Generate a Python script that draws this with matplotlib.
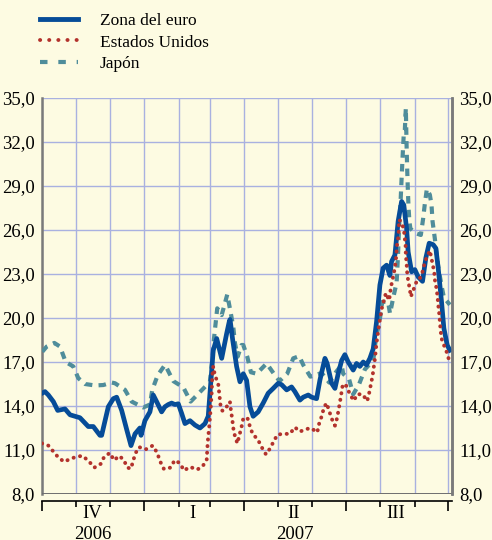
import numpy as np
import matplotlib
matplotlib.use("Agg")
import matplotlib.pyplot as plt
import matplotlib.dates as mdates
from matplotlib.lines import Line2D
from matplotlib.transforms import blended_transform_factory

plt.rcParams['font.family'] = ['Liberation Serif', 'DejaVu Serif']

start = np.datetime64('2006-10-01')

# --- data: day offsets from 1 Oct 2006 and values (%) ---
euro_days = [0, 2.7, 5.7, 10.2, 14.1, 20.7, 25.2, 29.6, 34.1, 41.6, 46.1, 52.1, 53.6, 59.6, 64.1, 67.1,
             71.6, 76.1, 80, 83.6, 88, 89, 92.5, 97, 100, 103, 107.5, 110.5, 113.5, 116.5, 119.5, 122.5,
             125.5, 128.5, 133, 137.5, 142, 146.5, 149.4, 151.6, 153.9, 157, 161.5, 166, 168.3, 169,
             171.4, 174.9, 177.9, 180.9, 183.9, 186.9, 189.8, 194.3, 198.8, 203.3, 207.8, 212.3, 215.4,
             219.9, 224.3, 227.3, 231.8, 234.8, 239.3, 242.3, 246.8, 249.8, 254.3, 256.3, 260.3, 263.3,
             266.2, 269.3, 272.2, 275.2, 279.7, 282.7, 285.7, 288.7, 291.7, 294.7, 297.7, 300.7, 303.7,
             306.6, 309.7, 312.7, 314.2, 317.2, 320.1, 323.2, 325.2, 327.7, 329.1, 332.2, 335.1, 338.1,
             342, 345, 348, 351.6, 354, 356.1, 359.1, 361.2, 364.2, 366.6]
euro_vals = [14.87, 14.98, 14.75, 14.3, 13.7, 13.8, 13.4, 13.3, 13.2, 12.6, 12.6, 12.0, 12.0, 13.95, 14.5, 14.6,
             13.7, 12.4, 11.3, 12.1, 12.5, 12.0, 13.0, 13.6, 14.75, 14.3, 13.6, 13.95, 14.1, 14.2, 14.1, 14.15,
             13.5, 12.8, 13.0, 12.7, 12.5, 12.8, 13.3, 15.5, 17.8, 18.6, 17.25, 18.95, 19.75, 19.9,
             18.5, 16.7, 15.65, 16.2, 15.75, 13.95, 13.3, 13.6, 14.2, 14.87, 15.2, 15.55, 15.45,
             15.1, 15.3, 14.98, 14.4, 14.6, 14.75, 14.6, 14.5, 15.77, 17.25, 16.9, 15.55, 15.2,
             16.2, 17.1, 17.5, 17.0, 16.45, 16.9, 16.7, 17.0, 16.8, 17.25, 17.9, 19.75, 22.25,
             23.4, 23.6, 22.9, 23.85, 24.3, 26.6, 27.95, 27.7, 26.1, 24.5, 23.15, 23.3, 22.8,
             22.5, 24.1, 25.1, 25.0, 24.75, 23.4, 21.1, 19.3, 18.15, 17.8]

us_days = [0, 5.7, 10.2, 14.6, 19.8, 25.8, 31.2, 36.6, 42.5, 47, 52.7, 56, 61.1, 64.7, 69.5, 73.7, 76.6,
           80, 82, 84.5, 87.4, 91.9, 93.4, 99.5, 103.6, 106, 109.6, 115.6, 119.2, 124, 127.6, 133,
           139.5, 144.4, 148, 148.9, 150.3, 151.6, 152.5, 153, 153.9, 155.4, 158.4, 159.1, 159.9,
           160.8, 162.4, 166.5, 168.9, 169.8, 171, 171.9, 173.4, 175.6, 177.4, 179.4, 180.9, 184.6,
           186.9, 189.3, 194.1, 197.4, 201.3, 204.9, 208, 211.6, 217, 222.8, 227.3, 231.8, 236.3,
           241.7, 247.4, 249.1, 251.6, 253.4, 255.8, 258.1, 260.6, 263.3, 265.3, 266.7, 268, 270.4,
           273.8, 276.7, 280.3, 283.3, 288.1, 292.3, 294.1, 297.1, 299.2, 300.7, 302.8, 305.2, 309.1,
           312, 313.6, 316.5, 318, 319.2, 320.5, 321, 323.2, 325.2, 326.1, 326.8, 327, 327.7, 328.2,
           329.1, 330.6, 331.5, 334.2, 337.2, 339.6, 342, 344.1, 345.6, 348.6, 351, 352.5, 353.1,
           354.6, 355.5, 356.1, 357, 357.6, 358.2, 359.1, 361.2, 363.6, 366]
us_vals = [11.45, 11.3, 10.9, 10.5, 10.2, 10.4, 10.55, 10.6, 10.2, 9.8, 10.05, 10.55, 10.8, 10.3, 10.6, 10.3, 9.8,
           9.73, 10.3, 10.84, 11.2, 11.05, 11.05, 11.3, 10.8, 10.25, 9.7, 9.8, 10.3, 10.1, 9.6, 9.85,
           9.66, 9.9, 10.3, 11.5, 12.6, 13.8, 14.9, 16.0, 16.7, 16.1, 15.5, 15.0, 14.4,
           13.8, 13.66, 14.0, 14.3, 13.7, 13.1, 12.5, 11.95, 11.45, 12.0, 12.6, 13.15, 13.2,
           12.6, 12.1, 11.7, 11.2, 10.7, 11.1, 11.55, 12.05, 12.1, 12.1, 12.55, 12.25, 12.4,
           12.5, 12.2, 12.8, 13.35, 13.9, 14.2, 13.66, 13.1, 12.66, 13.2, 13.8, 14.36, 15.5,
           15.36, 14.8, 14.36, 14.8, 14.8, 14.34, 14.9, 16.05, 17.2, 18.3, 19.45, 20.6, 21.7,
           21.2, 22.1, 23.15, 23.9, 25.05, 25.66, 26.7, 26.5, 26.05, 25.4, 24.9, 24.3, 23.7, 23.1,
           22.55, 21.95, 21.45, 22.0, 22.6, 22.7, 23.15, 23.8, 24.1, 24.6, 23.7, 23.15, 22.6,
           22.0, 21.45, 20.9, 20.3, 19.75, 19.2, 18.6, 18.16, 17.7, 17.1]

jp_days = [0.3, 4.2, 11.1, 16.2, 21.3, 28.1, 32.6, 38.6, 47.6, 55.1, 62.6, 65.6, 74.6, 80.6, 91, 97, 99.1,
           104, 110.5, 112, 118, 127, 133.6, 141.3, 150.9, 153.4, 154.5, 157.5, 161.5, 166.5, 169.5,
           171.9, 173.4, 175.8, 179.4, 180.9, 184.5, 187.8, 192.9, 201.9, 208.4, 213.5, 220.4, 225.8,
           231.2, 234.8, 241.2, 251.3, 258.1, 264.1, 269.3, 270.7, 276.1, 279.7, 284.8, 290.2, 297.7,
           300.4, 303.1, 305.8, 311, 312.8, 315.7, 318.7, 319.8, 321.2, 322.2, 323.2, 324.1, 325.2,
           326.1, 327, 327.7, 328.2, 328.8, 329.4, 330.2, 331.1, 335.1, 340.5, 342.6, 344.1, 345.9,
           348.6, 350.1, 351, 353.1, 356.1, 359.1, 361.2, 366.6]
jp_vals = [17.7, 18.05, 18.3, 18.05, 17.0, 16.7, 15.9, 15.5, 15.4, 15.43, 15.6, 15.55, 15.1, 14.3, 13.9, 14.1, 15.1,
           16.1, 16.8, 16.6, 15.7, 15.27, 14.3, 14.9, 15.65, 17.36, 18.55, 20.66, 20.2, 21.6, 20.4,
           19.4, 18.3, 17.36, 18.16, 18.16, 17.36, 16.3, 16.2, 16.9, 16.2, 15.7, 16.2, 17.25,
           17.4, 16.8, 16.0, 16.25, 15.6, 16.3, 16.8, 16.2, 15.8, 14.8, 15.45, 16.5, 17.1,
           18.8, 19.6, 21.1, 21.1, 20.3, 21.4, 22.4, 24.0, 26.6, 27.8, 29.5, 31.0, 32.6,
           32.8, 34.3, 31.7, 30.2, 28.8, 27.6, 26.6, 26.1, 25.8, 25.66, 26.8, 27.8, 28.8,
           28.4, 27.7, 26.6, 25.4, 23.5, 22.2, 21.4, 20.9]

series_labels = ['Zona del euro', 'Estados Unidos', 'Japón']
quarter_labels = ['IV', 'I', 'II', 'III']
quarter_mid_days = [45.5, 135.5, 226, 318]
year_labels = ['2006', '2007']
year_mid_days = [45.5, 227]
y_ticks = [8.0, 11.0, 14.0, 17.0, 20.0, 23.0, 26.0, 29.0, 32.0, 35.0]

# --- style ---
bg = '#FDFBE2'
grid_c = '#A9B1E0'
blue = '#064C98'
red = '#B3322C'
teal = '#4F8D9B'
fs = 12.5
tfs = 13.5


def to_dates(days):
    return start + (np.array(days) * 24 * 3600).astype('timedelta64[s]')


fig = plt.figure(figsize=(4.92, 5.40), dpi=100, facecolor=bg)
ax = fig.add_axes([42 / 492, 46 / 540, 410 / 492, 396 / 540], facecolor=bg)

ax.plot(to_dates(jp_days), jp_vals, color=teal, lw=3.0, dashes=(1.8, 1.5),
        dash_capstyle='butt', label=series_labels[2], zorder=3)
ax.plot(to_dates(euro_days), euro_vals, color=blue, lw=3.4, label=series_labels[0], zorder=4,
        solid_joinstyle='round')
ax.plot(to_dates(us_days), us_vals, color=red, lw=2.8, dashes=(0.05, 1.65), dash_capstyle='round',
        label=series_labels[1], zorder=5)

xmin = start
xmax = start + np.timedelta64(368 * 24 + 12, 'h')
ax.set_xlim(xmin, xmax)
ax.set_ylim(8, 35)

# gridlines
ax.set_yticks(y_ticks)
ax.set_yticklabels([f'{v:.1f}'.replace('.', ',') for v in y_ticks], fontsize=tfs)
ax.xaxis.set_major_locator(mdates.MonthLocator(bymonth=[1, 4, 7, 10]))
ax.xaxis.set_minor_locator(mdates.MonthLocator())
ax.xaxis.set_major_formatter(plt.NullFormatter())
ax.grid(True, which='both', axis='x', color=grid_c, lw=1.0, zorder=1)
ax.grid(True, which='major', axis='y', color=grid_c, lw=1.0, zorder=1)
ax.set_axisbelow(True)
ax.axhline(8.0, color='#6E6E6E', lw=1.4, zorder=6)

for s in ['left', 'right']:
    ax.spines[s].set_color('#7A7A7A')
    ax.spines[s].set_linewidth(1.8)
ax.spines['top'].set_visible(False)
ax.spines['bottom'].set_position(('outward', 5))
ax.spines['bottom'].set_color('black')
ax.spines['bottom'].set_linewidth(1.2)

ax.tick_params(axis='y', length=0, pad=5, labelsize=tfs)
ax.tick_params(axis='x', which='major', length=7, width=1.2, color='black', direction='out')
ax.tick_params(axis='x', which='minor', length=4, width=1.2, color='black', direction='out')

ax2 = ax.twinx()
ax2.set_ylim(8, 35)
ax2.set_yticks(y_ticks)
ax2.set_yticklabels([f'{v:.1f}'.replace('.', ',') for v in y_ticks], fontsize=tfs)
ax2.tick_params(axis='y', length=0, pad=5, labelsize=tfs)
for s in ['left', 'top', 'bottom']:
    ax2.spines[s].set_visible(False)
ax2.spines['right'].set_color('#7A7A7A')
ax2.spines['right'].set_linewidth(1.8)

trans = blended_transform_factory(ax.transData, ax.transAxes)
for lab, d in zip(quarter_labels, quarter_mid_days):
    ax.text(start + np.timedelta64(int(d * 24), 'h'), -0.050, lab, transform=trans,
            ha='center', va='center', fontsize=tfs)
for lab, d in zip(year_labels, year_mid_days):
    ax.text(start + np.timedelta64(int(d * 24), 'h'), -0.080, lab, transform=trans,
            ha='center', va='top', fontsize=tfs)

handles = [Line2D([], [], color=blue, lw=3.5),
           Line2D([], [], color=red, lw=2.8, dashes=(0.05, 2.3), dash_capstyle='round'),
           Line2D([], [], color=teal, lw=3.0, dashes=(1.8, 2.6))]
fig.legend(handles, series_labels, loc='upper left', bbox_to_anchor=(40 / 492, 1 - 13 / 540),
           frameon=False, fontsize=fs, handlelength=2.2, handletextpad=1.25, labelspacing=0.3,
           borderpad=0.0, borderaxespad=0)

fig.savefig('out.png', dpi=100, facecolor=bg)
